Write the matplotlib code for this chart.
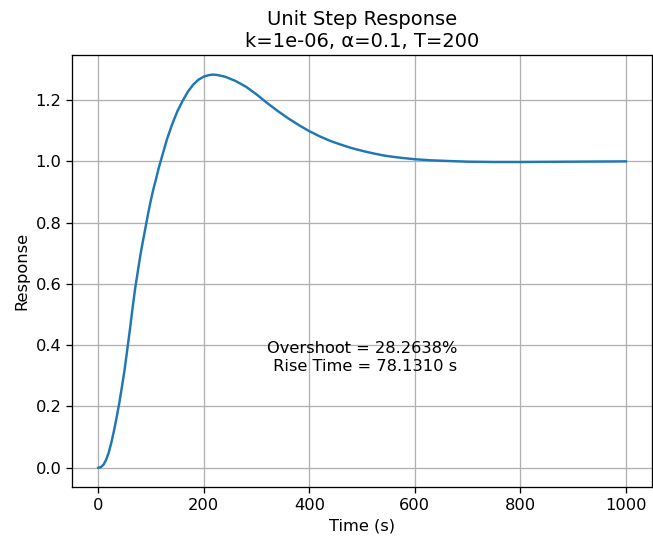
import matplotlib
matplotlib.use("Agg")
import matplotlib.pyplot as plt

# Values
time_s = [0, 5, 10, 15, 20, 25, 30, 35, 40, 45, 50, 55, 60, 65, 70, 75, 80, 85, 90, 95,
          100, 105, 110, 115, 120, 130, 140, 150, 160, 170, 180, 190, 200, 210, 217,
          225, 240, 260, 280, 300, 320, 340, 360, 380, 400, 420, 440, 460, 480, 500,
          520, 540, 560, 580, 600, 630, 660, 700, 750, 800, 900, 1000]
response = [0.0, 0.002, 0.01, 0.026, 0.05, 0.083, 0.122, 0.165, 0.212, 0.265, 0.32, 0.385,
            0.45, 0.52, 0.585, 0.64, 0.695, 0.742, 0.787, 0.833,
            0.875, 0.912, 0.945, 0.98, 1.01, 1.07, 1.12, 1.163, 1.197, 1.227, 1.25, 1.266,
            1.276, 1.281, 1.2826,
            1.2815, 1.276, 1.262, 1.243, 1.218, 1.19, 1.164, 1.14, 1.118, 1.098, 1.081,
            1.066, 1.054, 1.043, 1.034, 1.026, 1.019, 1.014, 1.010, 1.0065, 1.003, 1.001,
            0.9985, 0.9975, 0.9975, 0.9985, 0.9995]

overshoot_pct = 28.2638
rise_time = 78.1310

s = 1.17
plt.rcParams.update({
    "font.size": 10 * s,
    "lines.linewidth": 1.5 * s,
    "grid.linewidth": 0.8 * s,
    "axes.linewidth": 0.8 * s,
    "xtick.major.size": 3.5 * s,
    "ytick.major.size": 3.5 * s,
    "xtick.major.width": 0.8 * s,
    "ytick.major.width": 0.8 * s,
})

fig = plt.figure(figsize=(6.53, 5.44), dpi=100)
ax = fig.add_axes([0.110, 0.104, 0.889, 0.795])
ax.plot(time_s, response)
ax.grid(True)
ax.set_xlabel("Time (s)")
ax.set_ylabel("Response")
ax.set_title("Unit Step Response\nk=1e-06, \u03b1=0.1, T=200")
ax.text(0.5, 0.3, f"Overshoot = {overshoot_pct:.4f}%\n Rise Time = {rise_time:.4f} s",
        transform=ax.transAxes, ha="center", va="center")
fig.savefig("out.png", dpi=100)
